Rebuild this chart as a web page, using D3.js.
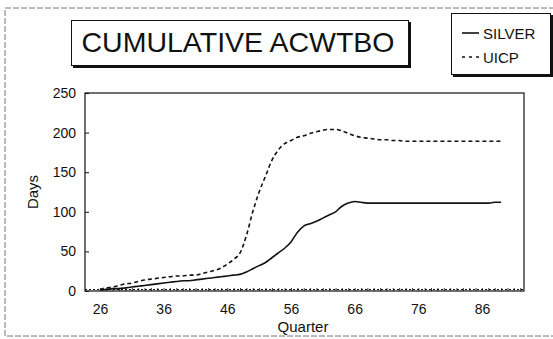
<!DOCTYPE html>
<html><head><meta charset="utf-8">
<script src="https://cdn.jsdelivr.net/npm/d3@7"></script>
<style>body{margin:0;background:#fff}svg{display:block}text{font-family:"Liberation Sans",Arial,sans-serif;fill:#111}</style>
</head><body>
<svg id="c" width="553" height="339"></svg>
<script>
const quarters = d3.range(26, 90);
const silver = [1,2,3,3,4,5,6,7,8,9,10,11,12,13,13,14,15,16,17,18,19,20,21,24,28,32,36,42,48,54,62,74,82,85,88,92,96,100,107,111,113,112,111,111,111,111,111,111,111,111,111,111,111,111,111,111,111,111,111,111,111,111,112,112];
const uicp = [2,4,5,7,9,10,12,14,15,16,17,18,19,19,20,20,22,24,26,29,34,40,48,70,100,125,145,165,178,186,190,194,196,199,201,203,204,204,202,199,196,194,193,192,191,191,190,190,189,189,189,189,189,189,189,189,189,189,189,189,189,189,189,189];
const xTicks = [26,36,46,56,66,76,86];
const yTicks = [0,50,100,150,200,250];
const seriesNames = ["SILVER","UICP"];
const title = "CUMULATIVE ACWTBO";

const svg = d3.select("#c");
const L = 85, R = 524, T = 93, B = 291;
const x = d3.scaleLinear().domain([23.65, 92.6]).range([L, R]);
const y = d3.scaleLinear().domain([0, 250]).range([B, T]);

// outer faint border
svg.append("rect").attr("x",5).attr("y",8).attr("width",560).attr("height",328)
  .attr("fill","none").attr("stroke","#777").attr("stroke-width",1).attr("stroke-dasharray","6,2");

// title box with shadow
svg.append("rect").attr("x",73).attr("y",22).attr("width",338).attr("height",46).attr("fill","#111");
svg.append("rect").attr("x",71.5).attr("y",20.5).attr("width",337).attr("height",45).attr("fill","#fff").attr("stroke","#111");
svg.append("text").attr("x",238).attr("y",52).attr("text-anchor","middle").attr("font-size",28.5).text(title);

// legend box
svg.append("rect").attr("x",453).attr("y",15).attr("width",100).attr("height",62).attr("fill","#111");
svg.append("rect").attr("x",451.5).attr("y",13.5).attr("width",99).attr("height",61).attr("fill","#fff").attr("stroke","#111");
const lg = svg.append("g");
lg.append("line").attr("x1",462).attr("x2",479).attr("y1",33).attr("y2",33).attr("stroke","#111").attr("stroke-width",1.6);
lg.append("line").attr("x1",462).attr("x2",480).attr("y1",57).attr("y2",57).attr("stroke","#111").attr("stroke-width",1.6).attr("stroke-dasharray","3,4");
lg.append("text").attr("x",483).attr("y",38.5).attr("font-size",15).text(seriesNames[0]);
lg.append("text").attr("x",483).attr("y",62.5).attr("font-size",15).text(seriesNames[1]);

// plot frame
svg.append("rect").attr("x",L).attr("y",T).attr("width",R-L).attr("height",B-T)
  .attr("fill","none").attr("stroke","#111").attr("stroke-width",1.2);

// axes
const yAxis = d3.axisLeft(y).tickValues(yTicks).tickSize(-4).tickPadding(9);
const gy = svg.append("g").attr("transform",`translate(${L},0)`).call(yAxis);
gy.select(".domain").remove();
gy.selectAll("text").attr("font-size",14).attr("font-family","Liberation Sans, Arial").attr("fill","#111");
gy.selectAll("line").attr("stroke","#111");

const xAxis = d3.axisBottom(x).tickValues(xTicks).tickSize(0).tickPadding(13);
const gx = svg.append("g").attr("transform",`translate(0,${B})`).call(xAxis);
gx.select(".domain").remove();
gx.selectAll("text").attr("font-size",14).attr("font-family","Liberation Sans, Arial").attr("fill","#111");

// minor ticks along bottom (each quarter)
const minor = d3.axisBottom(x).tickValues(d3.range(26, 93)).tickSize(-3).tickFormat("");
const gm = svg.append("g").attr("transform",`translate(0,${B})`).call(minor);
gm.select(".domain").remove();
gm.selectAll("line").attr("stroke","#111").attr("stroke-width",0.8);
svg.append("line").attr("x1",L).attr("x2",R).attr("y1",B-1.5).attr("y2",B-1.5).attr("stroke","#111").attr("stroke-width",1.2).attr("stroke-dasharray","2,2");

// lines
const line = d3.line().x((d,i)=>x(quarters[i])).y(d=>y(d)).curve(d3.curveMonotoneX);
svg.append("path").datum(silver).attr("d",line).attr("fill","none").attr("stroke","#111").attr("stroke-width",1.6);
svg.append("path").datum(uicp).attr("d",line).attr("fill","none").attr("stroke","#111").attr("stroke-width",1.6).attr("stroke-dasharray","4,3");

// axis titles
svg.append("text").attr("transform","translate(38,192) rotate(-90)").attr("text-anchor","middle").attr("font-size",15).text("Days");
svg.append("text").attr("x",303).attr("y",332).attr("text-anchor","middle").attr("font-size",15).text("Quarter");
</script>
</body></html>
